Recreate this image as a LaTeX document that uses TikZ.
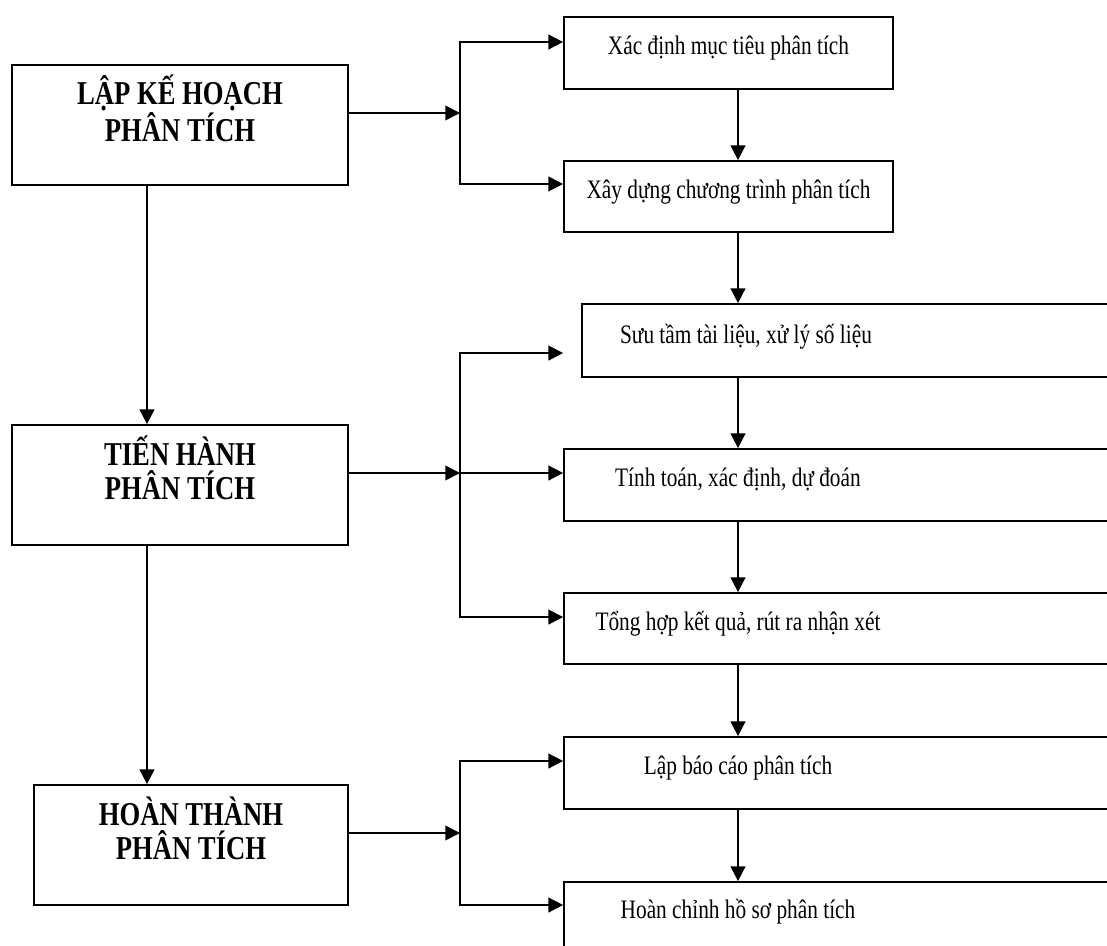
\documentclass[tikz,border=0pt]{standalone}
\usepackage{fontspec}
\setmainfont{Liberation Serif}[FakeStretch=0.8]
\usetikzlibrary{arrows.meta}

\begin{document}
\begin{tikzpicture}[x=0.75pt, y=-0.75pt,
    box/.style={draw, line width=1.3pt, inner sep=0pt},
    stage/.style={font=\fontsize{25}{25.5}\selectfont\bfseries, align=center, inner sep=0pt},
    task/.style={font=\fontsize{20}{22}\selectfont, anchor=base, inner sep=0pt},
    arr/.style={line width=1.3pt, -{Triangle[length=11pt, width=11pt]}}]
\useasboundingbox (0,0) rectangle (1107,946);
\clip (0,0) rectangle (1107,946);

\node[box, minimum width=252pt, minimum height=90pt] (plan) at (180,125) {};
\node[box, minimum width=252pt, minimum height=90pt] (exec) at (180,485) {};
\node[box, minimum width=235.5pt, minimum height=90pt] (finish) at (191,845) {};

\node[stage] (plant) at (180,108) {LẬP KẾ HOẠCH\\PHÂN TÍCH};
\node[stage] (exect) at (180,468) {TIẾN HÀNH\\PHÂN TÍCH};
\node[stage] (finisht) at (191,828) {HOÀN THÀNH\\PHÂN TÍCH};

\node[box, minimum width=246.75pt, minimum height=54pt] (goal) at (728.5,53) {};
\node[box, minimum width=246.75pt, minimum height=53.25pt] (prog) at (728.5,196.5) {};
\node[box, minimum width=411pt, minimum height=54.75pt] (collect) at (856,340.5) {};
\node[box, minimum width=424.5pt, minimum height=54pt] (calc) at (847,485) {};
\node[box, minimum width=424.5pt, minimum height=53.25pt] (sum) at (847,628.5) {};
\node[box, minimum width=424.5pt, minimum height=54pt] (report) at (847,773) {};
\node[box, minimum width=424.5pt, minimum height=54pt] (dossier) at (847,918) {};

\node[task] (goalt) at (728.5,54) {Xác định mục tiêu phân tích};
\node[task] (progt) at (728.5,198) {Xây dựng chương trình phân tích};
\node[task] (collectt) at (746,343) {Sưu tầm tài liệu, xử lý số liệu};
\node[task] (calct) at (738,486) {Tính toán, xác định, dự đoán};
\node[task] (sumt) at (738,630) {Tổng hợp kết quả, rút ra nhận xét};
\node[task] (reportt) at (738,774) {Lập báo cáo phân tích};
\node[task] (dossiert) at (738,918) {Hoàn chỉnh hồ sơ phân tích};

\coordinate (lx) at (147,0);
\coordinate (rx) at (738,0);
\draw[arr] (plan.south -| lx) -- (exec.north -| lx);
\draw[arr] (exec.south -| lx) -- (finish.north -| lx);

\draw[arr] (goal.south -| rx) -- (prog.north -| rx);
\draw[arr] (prog.south -| rx) -- (collect.north -| rx);
\draw[arr] (collect.south -| rx) -- (calc.north -| rx);
\draw[arr] (calc.south -| rx) -- (sum.north -| rx);
\draw[arr] (sum.south -| rx) -- (report.north -| rx);
\draw[arr] (report.south -| rx) -- (dossier.north -| rx);

\coordinate (s1) at (460,113);
\draw[arr] (plan.east |- s1) -- (s1);
\draw[arr] (s1) |- ([yshift=8.25pt]goal.west);
\draw[arr] (s1) |- ([yshift=9.4pt]prog.west);

\coordinate (s2) at (460,473);
\draw[arr] (exec.east |- s2) -- (s2);
\draw[arr] (s2) |- ([xshift=-13.5pt, yshift=-9.4pt]collect.west);
\draw[arr] (s2) -- (calc.west |- s2);
\draw[arr] (s2) |- ([yshift=8.6pt]sum.west);

\coordinate (s3) at (460,833);
\draw[arr] (finish.east |- s3) -- (s3);
\draw[arr] (s3) |- ([yshift=9pt]report.west);
\draw[arr] (s3) |- ([yshift=9.75pt]dossier.west);
\end{tikzpicture}
\end{document}
